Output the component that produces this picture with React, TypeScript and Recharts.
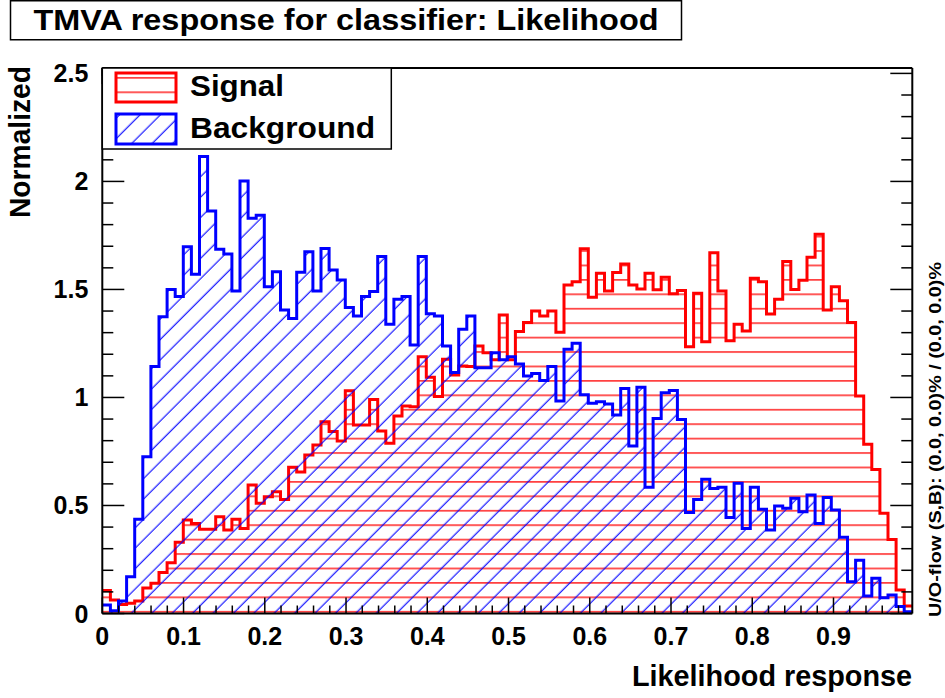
import React from "react";
import { ComposedChart, Area, XAxis, YAxis } from "recharts";

// Likelihood response, 100 bins, normalised
const signal = [
  0.106, 0.062, 0.042, 0.047, 0.058, 0.118, 0.14, 0.19, 0.235, 0.33,
  0.433, 0.417, 0.39, 0.39, 0.448, 0.386, 0.436, 0.394, 0.595, 0.51,
  0.54, 0.564, 0.528, 0.677, 0.655, 0.734, 0.78, 0.888, 0.842, 0.798,
  1.031, 0.873, 0.873, 0.991, 0.845, 0.788, 0.914, 0.96, 0.957, 1.189,
  1.093, 1.004, 1.177, 1.104, 1.146, 1.143, 1.238, 1.207, 1.174, 1.382,
  1.174, 1.305, 1.347, 1.4, 1.377, 1.4, 1.302, 1.521, 1.536, 1.688,
  1.464, 1.575, 1.493, 1.578, 1.618, 1.521, 1.502, 1.575, 1.498, 1.556,
  1.48, 1.495, 1.235, 1.482, 1.258, 1.67, 1.493, 1.262, 1.339, 1.308,
  1.552, 1.536, 1.386, 1.455, 1.629, 1.5, 1.543, 1.649, 1.755, 1.405,
  1.513, 1.448, 1.347, 1.007, 0.783, 0.667, 0.464, 0.343, 0.109, 0.035,
];

const background = [
  0.039, 0.013, 0.058, 0.17, 0.436, 0.726, 1.143, 1.374, 1.5, 1.467,
  1.698, 1.57, 2.115, 1.863, 1.686, 1.664, 1.493, 2.002, 1.83, 1.843,
  1.513, 1.582, 1.405, 1.366, 1.58, 1.674, 1.493, 1.69, 1.59, 1.544,
  1.416, 1.377, 1.467, 1.49, 1.652, 1.339, 1.455, 1.467, 1.243, 1.652,
  1.387, 1.377, 1.238, 1.115, 1.316, 1.377, 1.138, 1.138, 1.207, 1.174,
  1.189, 1.155, 1.099, 1.111, 1.078, 1.143, 0.984, 1.223, 1.251, 1.012,
  0.973, 0.98, 0.97, 0.919, 1.042, 0.775, 1.047, 0.584, 0.903, 1.022,
  1.032, 0.898, 0.467, 0.528, 0.621, 0.579, 0.584, 0.444, 0.603, 0.394,
  0.584, 0.482, 0.387, 0.498, 0.487, 0.533, 0.471, 0.549, 0.417, 0.537,
  0.479, 0.353, 0.147, 0.247, 0.081, 0.163, 0.073, 0.086, 0.032, 0.008,
];

const xLabels = [0, 0.1, 0.2, 0.3, 0.4, 0.5, 0.6, 0.7, 0.8, 0.9];
const yLabels = [0, 0.5, 1, 1.5, 2, 2.5];

const XMAX = 0.997;
const YMAX = 2.525;

// minor tick positions (axis config, not data)
const xTicks = Array.from({ length: 50 }, (_, i) => +(i * 0.02).toFixed(2));
const yTicks = Array.from({ length: 26 }, (_, i) => +(i * 0.1).toFixed(1));

// one point per bin edge; the last edge repeats the last bin for the step
const data = Array.from({ length: signal.length + 1 }, (_, i) => {
  const k = Math.min(i, signal.length - 1);
  return { x: (i * XMAX) / signal.length, s: signal[k], b: background[k] };
});

const FONT = "'Liberation Sans', Arial, Helvetica, sans-serif";
const RED = "#ff0000";
const BLUE = "#0000ff";

const isMajor = (v: number, step: number) =>
  Math.abs(v / step - Math.round(v / step)) < 1e-6;
const fmt = (v: number) => String(Number(v.toFixed(1)));

const labelStyle = { fontFamily: FONT, fontWeight: 700, fontSize: 25, fill: "#000" };

const BottomTick = (p: any) => {
  const v = p.payload.value;
  const major = isMajor(v, 0.1);
  return (
    <g>
      <line x1={p.x} x2={p.x} y1={p.y} y2={p.y - (major ? 16 : 8)} stroke="#000" strokeWidth={1.5} />
      {major && xLabels.some((l) => Math.abs(l - v) < 1e-6) && (
        <text x={p.x} y={p.y + 31} textAnchor="middle" style={labelStyle}>
          {fmt(v)}
        </text>
      )}
    </g>
  );
};

const TopTick = (p: any) => {
  const major = isMajor(p.payload.value, 0.1);
  return <line x1={p.x} x2={p.x} y1={p.y} y2={p.y + (major ? 16 : 8)} stroke="#000" strokeWidth={1.5} />;
};

const LeftTick = (p: any) => {
  const v = p.payload.value;
  const major = isMajor(v, 0.5);
  return (
    <g>
      <line x1={p.x} x2={p.x + (major ? 22 : 11)} y1={p.y} y2={p.y} stroke="#000" strokeWidth={1.5} />
      {major && yLabels.some((l) => Math.abs(l - v) < 1e-6) && (
        <text x={p.x - 14} y={p.y} dy="0.36em" textAnchor="end" style={labelStyle}>
          {fmt(v)}
        </text>
      )}
    </g>
  );
};

const RightTick = (p: any) => {
  const major = isMajor(p.payload.value, 0.5);
  return <line x1={p.x} x2={p.x - (major ? 22 : 11)} y1={p.y} y2={p.y} stroke="#000" strokeWidth={1.5} />;
};

const Patterns = ({ prefix }: { prefix: string }) => (
  <defs>
    <pattern id={`${prefix}red`} patternUnits="userSpaceOnUse" width={10} height={14.43}>
      <line x1={0} x2={10} y1={5.7} y2={5.7} stroke={RED} strokeWidth={1.3} />
    </pattern>
    <pattern
      id={`${prefix}blue`}
      patternUnits="userSpaceOnUse"
      width={14.43}
      height={14.43}
      patternTransform="rotate(-45)"
    >
      <line x1={0} x2={14.43} y1={7} y2={7} stroke={BLUE} strokeWidth={1.1} />
    </pattern>
  </defs>
);

const axisLine = { stroke: "#000", strokeWidth: 2 };

export default function App() {
  return (
    <div style={{ position: "absolute", left: 0, top: 0, width: 945, height: 698, background: "#fff" }}>
      <ComposedChart
        width={945}
        height={698}
        data={data}
        margin={{ top: 67, right: 31.7, bottom: 83.5, left: 101.3 }}
      >
        <Patterns prefix="c-" />
        <Area
          xAxisId="bottom"
          yAxisId="left"
          type="stepAfter"
          dataKey="s"
          baseValue={0}
          stroke={RED}
          strokeWidth={3}
          fill="url(#c-red)"
          fillOpacity={1}
          dot={false}
          activeDot={false}
          isAnimationActive={false}
        />
        <Area
          xAxisId="bottom"
          yAxisId="left"
          type="stepAfter"
          dataKey="b"
          baseValue={0}
          stroke={BLUE}
          strokeWidth={3}
          fill="url(#c-blue)"
          fillOpacity={1}
          dot={false}
          activeDot={false}
          isAnimationActive={false}
        />
        <XAxis
          xAxisId="bottom"
          dataKey="x"
          type="number"
          domain={[0, XMAX]}
          allowDataOverflow
          ticks={xTicks}
          interval={0}
          height={1}
          tickSize={0}
          tickMargin={0}
          tickLine={false}
          axisLine={axisLine}
          tick={BottomTick}
        />
        <XAxis
          xAxisId="top"
          orientation="top"
          type="number"
          domain={[0, XMAX]}
          allowDataOverflow
          ticks={xTicks}
          interval={0}
          height={1}
          tickSize={0}
          tickMargin={0}
          tickLine={false}
          axisLine={axisLine}
          tick={TopTick}
        />
        <YAxis
          yAxisId="left"
          type="number"
          domain={[0, YMAX]}
          allowDataOverflow
          ticks={yTicks}
          interval={0}
          width={1}
          tickSize={0}
          tickMargin={0}
          tickLine={false}
          axisLine={axisLine}
          tick={LeftTick}
        />
        <YAxis
          yAxisId="right"
          orientation="right"
          type="number"
          domain={[0, YMAX]}
          allowDataOverflow
          ticks={yTicks}
          interval={0}
          width={1}
          tickSize={0}
          tickMargin={0}
          tickLine={false}
          axisLine={axisLine}
          tick={RightTick}
        />
      </ComposedChart>

      <svg
        width={945}
        height={698}
        style={{ position: "absolute", left: 0, top: 0, pointerEvents: "none" }}
      >
        <Patterns prefix="o-" />
        {/* title box */}
        <rect x={10.5} y={0.75} width={671} height={39} fill="#fff" stroke="#000" strokeWidth={1.5} />
        <text
          x={346}
          y={30}
          textAnchor="middle"
          textLength={625}
          lengthAdjust="spacingAndGlyphs"
          style={{ fontFamily: FONT, fontWeight: 700, fontSize: 30 }}
        >
          TMVA response for classifier: Likelihood
        </text>

        {/* legend */}
        <rect x={102.3} y={68} width={289} height={81} fill="#fff" stroke="#000" strokeWidth={1.5} />
        <rect x={116} y={73} width={60} height={29} fill="url(#o-red)" stroke={RED} strokeWidth={3} />
        <rect x={116} y={114} width={60} height={30} fill="url(#o-blue)" stroke={BLUE} strokeWidth={3} />
        <text
          x={190}
          y={96}
          textLength={94}
          lengthAdjust="spacingAndGlyphs"
          style={{ fontFamily: FONT, fontWeight: 700, fontSize: 29 }}
        >
          Signal
        </text>
        <text
          x={190}
          y={138}
          textLength={185}
          lengthAdjust="spacingAndGlyphs"
          style={{ fontFamily: FONT, fontWeight: 700, fontSize: 29 }}
        >
          Background
        </text>

        {/* axis titles */}
        <text
          x={912}
          y={686}
          textAnchor="end"
          textLength={280}
          lengthAdjust="spacingAndGlyphs"
          style={{ fontFamily: FONT, fontWeight: 700, fontSize: 29 }}
        >
          Likelihood response
        </text>
        <text
          transform="translate(30,66) rotate(-90)"
          textAnchor="end"
          textLength={152}
          lengthAdjust="spacingAndGlyphs"
          style={{ fontFamily: FONT, fontWeight: 700, fontSize: 29 }}
        >
          Normalized
        </text>
        <text
          transform="translate(941,617) rotate(-90)"
          textLength={355}
          lengthAdjust="spacingAndGlyphs"
          style={{ fontFamily: FONT, fontWeight: 700, fontSize: 17 }}
        >
          U/O-flow (S,B): (0.0, 0.0)% / (0.0, 0.0)%
        </text>
      </svg>
    </div>
  );
}
